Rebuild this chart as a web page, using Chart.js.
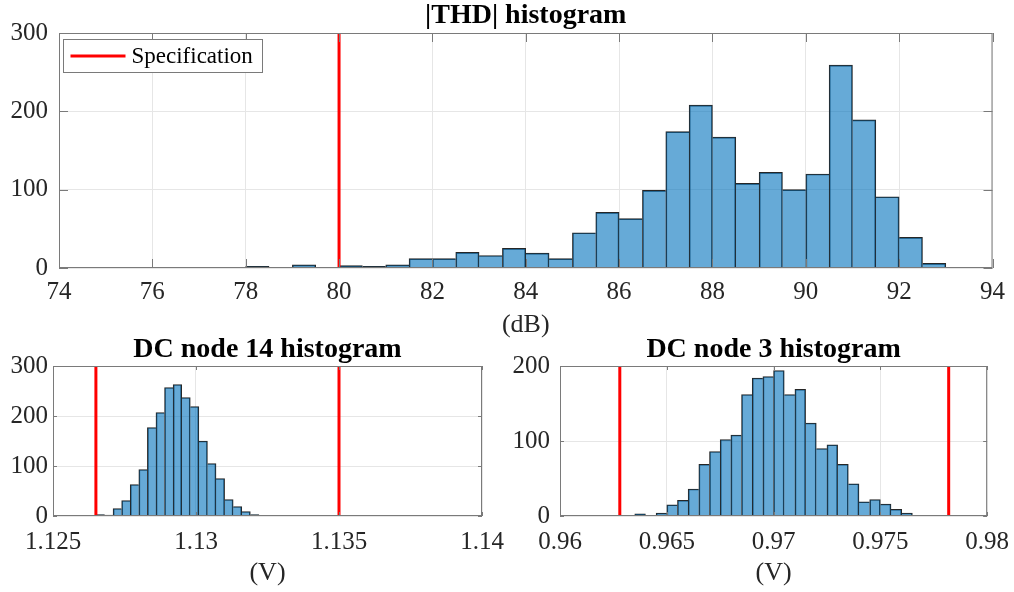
<!DOCTYPE html>
<html lang="en">
<head>
<meta charset="UTF-8">
<title>Histograms</title>
<script src="https://cdn.jsdelivr.net/npm/chart.js"></script>
<style>
  body { margin: 0; background: #fff; width: 1014px; height: 592px; position: relative; overflow: hidden; }
  canvas { position: absolute; }
</style>
</head>
<body>
<canvas id="thd" width="1014" height="345" style="left:0px;top:0px"></canvas>
<canvas id="n14" width="520" height="262" style="left:0px;top:330px"></canvas>
<canvas id="n3" width="520" height="262" style="left:500px;top:330px"></canvas>
<script>
// |THD| histogram: bins of 0.5 dB starting at 74 dB
const thdStart = 74, thdWidth = 0.5;
const thdCounts = [0, 0, 1, 1, 0, 0, 0, 1, 2, 0,
                   4, 1, 3, 2, 4, 12, 12, 20, 16, 25,
                   19, 12, 45, 71, 63, 99, 174, 208, 167, 108,
                   122, 100, 120, 259, 189, 91, 39, 6];
const thdSpec = [80];
const thdTicks = [74, 76, 78, 80, 82, 84, 86, 88, 90, 92, 94];

// DC node 14: bins of 0.3 mV starting at 1.1265 V
const n14Start = 1.1265, n14Width = 0.0003;
const n14Counts = [3, 2, 15, 31, 63, 93, 177, 207, 257, 263,
                   237, 219, 150, 105, 75, 33, 19, 9, 3, 1,
                   1, 1, 0, 0, 1, 0, 0, 1, 1];
const n14Spec = [1.1265, 1.135];
const n14Ticks = [1.125, 1.13, 1.135, 1.14];

// DC node 3: bins of 0.5 mV starting at 0.9625 V
const n3Start = 0.9625, n3Width = 0.0005;
const n3Counts = [1, 1, 3, 1, 4, 15, 21, 36, 69, 86,
                  102, 108, 162, 184, 186, 194, 162, 169, 124, 90,
                  95, 69, 43, 19, 22, 16, 9, 4, 0, 0,
                  0, 1];
const n3Spec = [0.9628, 0.9782];
const n3Ticks = [0.96, 0.965, 0.97, 0.975, 0.98];

Chart.defaults.font.family = '"Liberation Serif", "Times New Roman", serif';
Chart.defaults.color = '#262626';

// only draw the edge between two bars once, from the taller one
function edges(counts, i) {
  const c = counts[i];
  const prev = i > 0 ? counts[i - 1] : 0;
  const next = i < counts.length - 1 ? counts[i + 1] : 0;
  return { top: 1, bottom: 0, left: c >= prev ? 1 : 0, right: c > next ? 1 : 0 };
}

// matlab-like box, inward ticks and the legend
const framePlugin = {
  id: 'frame',
  afterDatasetsDraw(chart, args, o) {
    const { ctx, chartArea: a, scales } = chart;
    ctx.save();
    ctx.strokeStyle = '#7a7a7a';
    ctx.lineWidth = 1;
    ctx.strokeRect(a.left + 0.5, a.top + 0.5, a.width - 1, a.height - 1);
    ctx.beginPath();
    scales.x.ticks.forEach(t => {
      const px = Math.round(scales.x.getPixelForValue(t.value)) + 0.5;
      ctx.moveTo(px, a.bottom); ctx.lineTo(px, a.bottom - o.tickLen);
      ctx.moveTo(px, a.top); ctx.lineTo(px, a.top + o.tickLen);
    });
    scales.y.ticks.forEach(t => {
      const py = Math.round(scales.y.getPixelForValue(t.value)) + 0.5;
      ctx.moveTo(a.left, py); ctx.lineTo(a.left + o.tickLen, py);
      ctx.moveTo(a.right, py); ctx.lineTo(a.right - o.tickLen, py);
    });
    ctx.stroke();
    if (o.legend) {
      const bx = Math.round(a.left) + 4.5, by = Math.round(a.top) + 6.5, bw = 199, bh = 33;
      ctx.fillStyle = '#fff';
      ctx.fillRect(bx, by, bw, bh);
      ctx.strokeStyle = '#7a7a7a';
      ctx.strokeRect(bx, by, bw, bh);
      ctx.strokeStyle = '#ff0000';
      ctx.lineWidth = 3;
      ctx.beginPath();
      ctx.moveTo(bx + 7, by + bh / 2); ctx.lineTo(bx + 62, by + bh / 2);
      ctx.stroke();
      ctx.fillStyle = '#000';
      ctx.font = '23px "Liberation Serif", "Times New Roman", serif';
      ctx.textBaseline = 'middle';
      ctx.fillText(o.legend, bx + 68, by + bh / 2 + 1);
    }
    ctx.restore();
  }
};

function histChart(id, p) {
  const bins = p.counts.map((c, i) => ({ x: p.start + (i + 0.5) * p.width, y: c }));
  const datasets = [{
    type: 'bar', data: bins, order: 1,
    backgroundColor: 'rgba(0,114,189,0.6)', borderColor: '#262626',
    borderWidth: ctx => edges(p.counts, ctx.dataIndex),
    borderSkipped: false, barPercentage: 1, categoryPercentage: 1
  }];
  p.specs.forEach(s => datasets.push({
    type: 'line', label: 'Specification', order: 0,
    data: [{ x: s, y: 0 }, { x: s, y: p.yMax }],
    borderColor: '#ff0000', borderWidth: 3, pointRadius: 0
  }));

  return new Chart(document.getElementById(id), {
    type: 'bar',
    data: { datasets: datasets },
    plugins: [framePlugin],
    options: {
      responsive: false,
      animation: false,
      events: [],
      layout: { padding: { left: 0, right: p.padR, top: 0, bottom: 0 } },
      plugins: {
        legend: { display: false },
        tooltip: { enabled: false },
        title: {
          display: true, text: p.title, fullSize: false, color: '#000',
          font: { size: 28, weight: 'bold', lineHeight: 1 },
          padding: { top: p.titleTop, bottom: p.titleBottom }
        },
        frame: { tickLen: p.tickLen, legend: p.legend }
      },
      scales: {
        x: {
          type: 'linear', min: p.ticks[0], max: p.ticks[p.ticks.length - 1], offset: false,
          afterBuildTicks: s => { s.ticks = p.ticks.map(v => ({ value: v })); },
          grid: { color: '#e6e6e6', drawTicks: false, offset: false },
          border: { display: false },
          ticks: {
            padding: p.xPad, maxRotation: 0, autoSkip: false,
            font: { size: 25 }, callback: v => String(+v.toFixed(4))
          },
          title: { display: true, text: p.xTitle, font: { size: 26 }, padding: { top: 0, bottom: p.xTitlePad } },
          afterFit: s => { s.height = p.xAxisH; }
        },
        y: {
          min: 0, max: p.yMax,
          grid: { color: '#e6e6e6', drawTicks: false },
          border: { display: false },
          ticks: { stepSize: 100, padding: p.yPad, font: { size: 25 } },
          afterFit: s => { s.width = p.yAxisW; }
        }
      }
    }
  });
}

histChart('thd', {
  title: '|THD| histogram', xTitle: '(dB)', legend: 'Specification',
  counts: thdCounts, start: thdStart, width: thdWidth, specs: thdSpec, ticks: thdTicks, yMax: 300,
  padR: 17, yAxisW: 59, xAxisH: 77, titleTop: 2, titleBottom: 3,
  xPad: 9, xTitlePad: 4, yPad: 11, tickLen: 9
});

histChart('n14', {
  title: 'DC node 14 histogram', xTitle: '(V)',
  counts: n14Counts, start: n14Start, width: n14Width, specs: n14Spec, ticks: n14Ticks, yMax: 300,
  padR: 38, yAxisW: 53, xAxisH: 76, titleTop: 6, titleBottom: 2,
  xPad: 11, xTitlePad: 3, yPad: 5, tickLen: 4
});

histChart('n3', {
  title: 'DC node 3 histogram', xTitle: '(V)',
  counts: n3Counts, start: n3Start, width: n3Width, specs: n3Spec, ticks: n3Ticks, yMax: 200,
  padR: 31, yAxisW: 60, xAxisH: 76, titleTop: 6, titleBottom: 2,
  xPad: 11, xTitlePad: 3, yPad: 10, tickLen: 4
});
</script>
</body>
</html>
